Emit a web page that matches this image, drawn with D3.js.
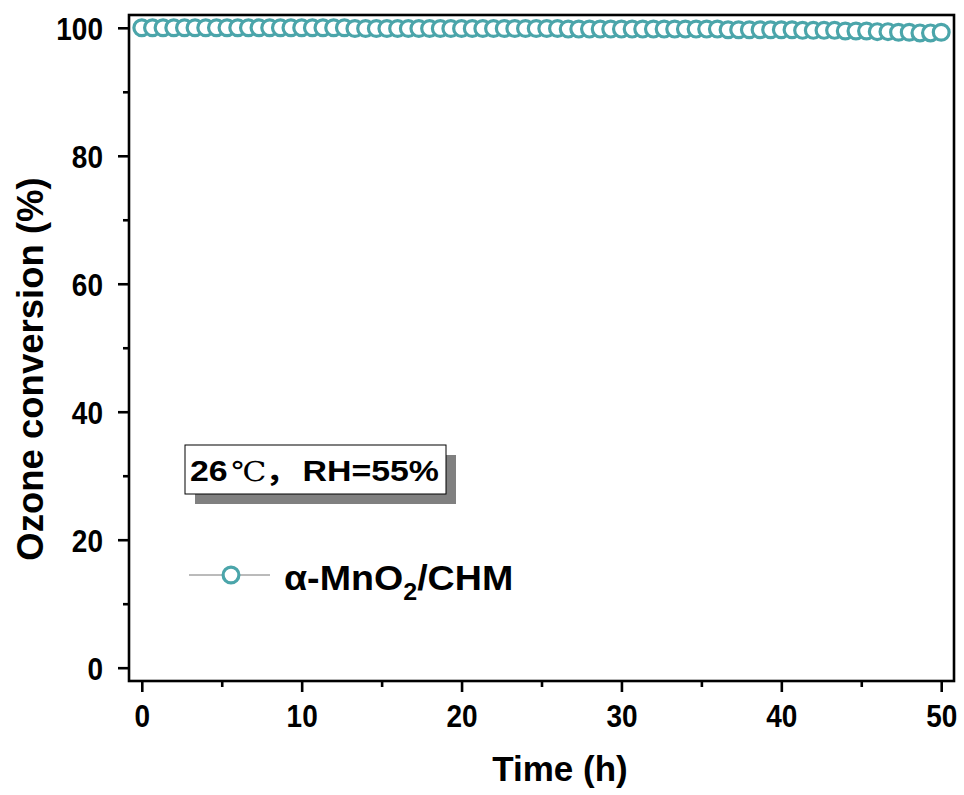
<!DOCTYPE html>
<html><head><meta charset="utf-8">
<script src="https://cdn.jsdelivr.net/npm/d3@7"></script>
<style>body{margin:0;background:#fff}svg{display:block}text{font-family:"Liberation Sans",Arial,sans-serif;font-weight:bold;fill:#000}</style>
</head><body>
<script>
const times = [0,0.67,1.33,2,2.67,3.33,4,4.67,5.33,6,6.67,7.33,8,8.67,9.33,10,10.67,11.33,12,12.67,13.33,14,14.67,15.33,16,16.67,17.33,18,18.67,19.33,20,20.67,21.33,22,22.67,23.33,24,24.67,25.33,26,26.67,27.33,28,28.67,29.33,30,30.67,31.33,32,32.67,33.33,34,34.67,35.33,36,36.67,37.33,38,38.67,39.33,40,40.67,41.33,42,42.67,43.33,44,44.67,45.33,46,46.67,47.33,48,48.67,49.33,50];
const conversion = [100,100,100,100,100,100,100,100,100,100,100,100,100,100,100,100,100,100,100,100,99.9,99.9,99.9,99.9,99.9,99.9,99.9,99.9,99.9,99.9,99.9,99.9,99.9,99.9,99.9,99.9,99.9,99.9,99.9,99.9,99.8,99.8,99.8,99.8,99.8,99.8,99.8,99.8,99.8,99.8,99.8,99.8,99.8,99.8,99.8,99.7,99.7,99.7,99.7,99.7,99.7,99.7,99.6,99.6,99.6,99.6,99.5,99.5,99.5,99.4,99.4,99.3,99.3,99.2,99.2,99.3];
const xTicks = [0,10,20,30,40,50];
const xMinor = [5,15,25,35,45];
const yTicks = [0,20,40,60,80,100];
const yMinor = [10,30,50,70,90];
const seriesName = "α-MnO";
const conditionLabel = "RH=55%";
const color = "#4ba5aa";

const W = 964, H = 795;
const L = 129, R = 954, T = 15, B = 681;
const svg = d3.select("body").append("svg").attr("width", W).attr("height", H);
const x = d3.scaleLinear().domain([-0.8, 50.8]).range([L, R]);
const y = d3.scaleLinear().domain([-2.08, 102]).range([B, T]);

// frame
svg.append("rect").attr("x", L).attr("y", T).attr("width", R - L).attr("height", B - T)
  .attr("fill", "none").attr("stroke", "#000").attr("stroke-width", 2.6);

// axes
const xAxis = svg.append("g").attr("transform", `translate(0,${B})`)
  .call(d3.axisBottom(x).tickValues(xTicks).tickSize(11).tickFormat(d3.format("d")));
const xAxisMinor = svg.append("g").attr("transform", `translate(0,${B})`)
  .call(d3.axisBottom(x).tickValues(xMinor).tickSize(6).tickFormat(""));
const yAxis = svg.append("g").attr("transform", `translate(${L},0)`)
  .call(d3.axisLeft(y).tickValues(yTicks).tickSize(11).tickPadding(15).tickFormat(d3.format("d")));
const yAxisMinor = svg.append("g").attr("transform", `translate(${L},0)`)
  .call(d3.axisLeft(y).tickValues(yMinor).tickSize(6).tickFormat(""));
[xAxis, xAxisMinor, yAxis, yAxisMinor].forEach(g => {
  g.select(".domain").remove();
  g.selectAll(".tick line").attr("stroke", "#000").attr("stroke-width", 2.6);
  g.selectAll(".tick text").style("font-size", "28px").style("font-family", "Liberation Sans, Arial, sans-serif").style("font-weight", "bold").attr("fill", "#000").attr("transform", "scale(1,1.15)");
});
xAxis.selectAll(".tick text").attr("y", 40).attr("dy", 0);
yAxis.selectAll(".tick text").attr("dy", "0.36em");

// series line + markers
const line = d3.line().x((d, i) => x(times[i])).y(d => y(d));
svg.append("path").datum(conversion).attr("d", line).attr("fill", "none").attr("stroke", "#777").attr("stroke-width", 1);
svg.append("g").selectAll("circle").data(conversion).join("circle")
  .attr("cx", (d, i) => x(times[i])).attr("cy", d => y(d)).attr("r", 7.9)
  .attr("fill", "#fff").attr("stroke", color).attr("stroke-width", 3.2);

// axis titles
svg.append("text").attr("x", 560).attr("y", 781).attr("text-anchor", "middle").style("font-size", "35px").text("Time (h)");
svg.append("text").attr("transform", "translate(43,369) rotate(-90)").attr("text-anchor", "middle").style("font-size", "36.5px").text("Ozone conversion (%)");

// condition box with shadow
const bx = 185, by = 445, bw = 261, bh = 49;
svg.append("rect").attr("x", bx + 10).attr("y", by + 10).attr("width", bw).attr("height", bh).attr("fill", "#808080");
svg.append("rect").attr("x", bx).attr("y", by).attr("width", bw).attr("height", bh).attr("fill", "#fff").attr("stroke", "#000").attr("stroke-width", 1);
const cg = svg.append("g").attr("transform", `translate(190,481) scale(1.21,1.05)`);
const ct = cg.append("text").style("font-size", "28px");
ct.append("tspan").attr("x", 0).text("26");
ct.append("tspan").attr("x", 34).style("font-family", "'DejaVu Serif',serif").style("font-weight", "normal").style("font-size", "26px").text("℃");
ct.append("tspan").attr("x", 62).style("font-family", "'Noto Sans CJK SC',sans-serif").style("font-weight", "bold").text("，");
ct.append("tspan").attr("x", 93).text(conditionLabel);

// legend
const ly = 575;
svg.append("line").attr("x1", 189).attr("x2", 270).attr("y1", ly).attr("y2", ly).attr("stroke", "#777").attr("stroke-width", 1);
svg.append("circle").attr("cx", 231).attr("cy", ly).attr("r", 7.9).attr("fill", "#fff").attr("stroke", color).attr("stroke-width", 3.2);
const lg = svg.append("g").attr("transform", `translate(284,${ly + 15}) scale(1.14,1.08)`);
const lt = lg.append("text").style("font-size", "33px");
lt.append("tspan").text(seriesName);
lt.append("tspan").attr("dy", 9).style("font-size", "22px").text("2");
lt.append("tspan").attr("dy", -9).text("/CHM");
</script>
</body></html>
